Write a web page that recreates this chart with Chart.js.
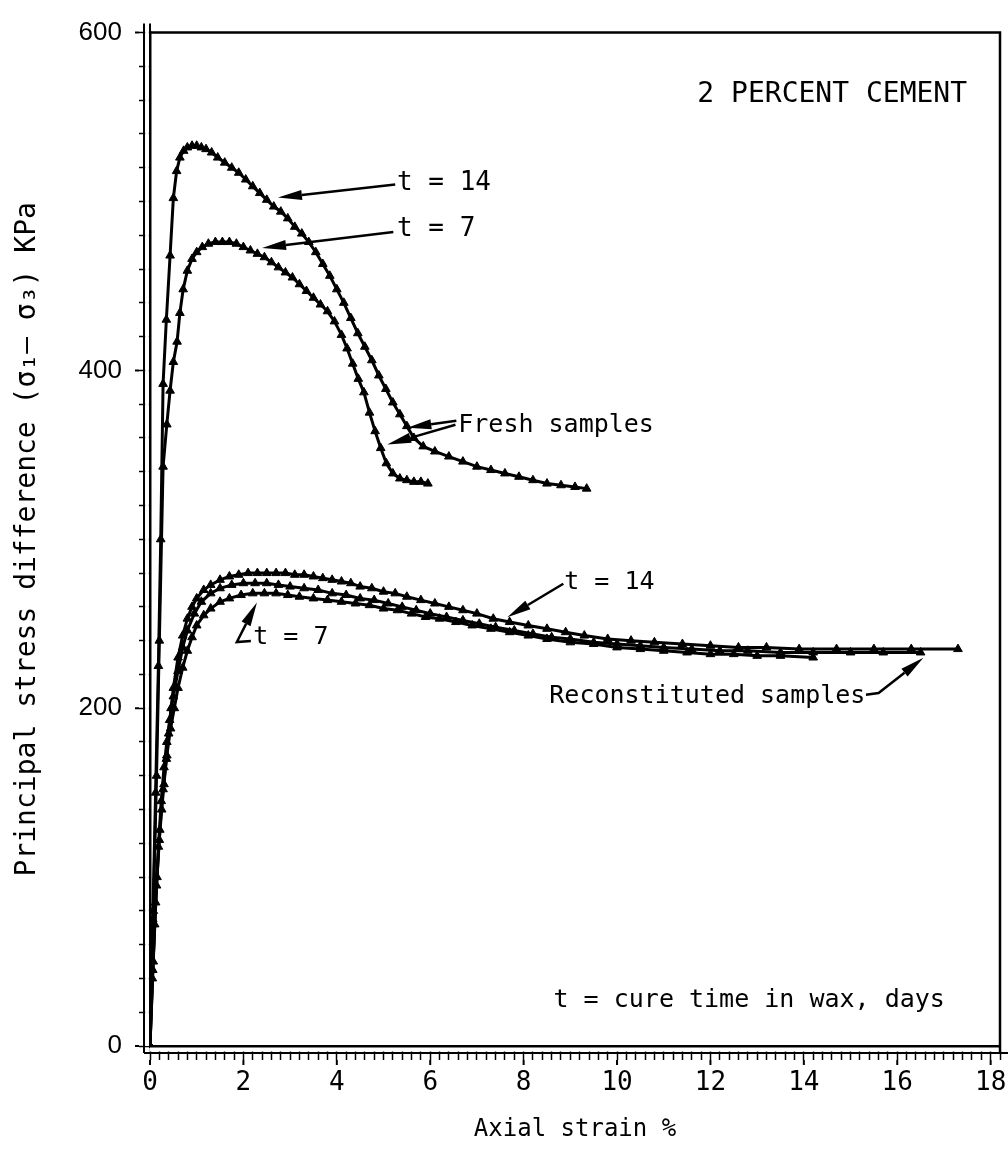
<!DOCTYPE html>
<html lang="en">
<head>
    <meta charset="UTF-8">
    <title>2 percent cement - stress vs strain</title>
    <script src="https://cdn.jsdelivr.net/npm/chart.js"></script>
    <style>
        body { margin: 0; background: #fff; }
        #box { width: 1008px; height: 1157px; }
    </style>
</head>
<body>
    <div id="box">
        <canvas id="stressChart" width="1008" height="1157"></canvas>
    </div>

    <script>
        // axial strain (%) and principal stress difference (kPa)
        const fresh14X = [0, 0.06, 0.12, 0.18, 0.23, 0.28, 0.35, 0.43, 0.5, 0.57, 0.64, 0.72, 0.8, 0.9, 1.0, 1.1, 1.2, 1.32, 1.45, 1.6, 1.75, 1.9, 2.05, 2.2, 2.35, 2.5, 2.65, 2.8, 2.95, 3.1, 3.25, 3.4, 3.55, 3.7, 3.85, 4.0, 4.15, 4.3, 4.45, 4.6, 4.75, 4.9, 5.05, 5.2, 5.35, 5.5, 5.65, 5.85, 6.1, 6.4, 6.7, 7.0, 7.3, 7.6, 7.9, 8.2, 8.5, 8.8, 9.1, 9.35];
        const fresh14Y = [0, 75, 150, 225, 300, 392, 430, 468, 502, 518, 526, 530, 532, 533, 533, 532, 531, 529, 526, 523, 520, 517, 513, 509, 505, 501, 497, 494, 490, 485, 481, 476, 470, 463, 456, 448, 440, 431, 422, 414, 406, 397, 389, 381, 374, 367, 360, 355, 352, 349, 346, 343, 341, 339, 337, 335, 333, 332, 331, 330];

        const fresh7X = [0, 0.07, 0.14, 0.2, 0.28, 0.36, 0.43, 0.5, 0.58, 0.64, 0.71, 0.8, 0.9, 1.0, 1.12, 1.25, 1.4, 1.55, 1.7, 1.85, 2.0, 2.15, 2.3, 2.45, 2.6, 2.75, 2.9, 3.05, 3.2, 3.35, 3.5, 3.65, 3.8, 3.95, 4.1, 4.22, 4.34, 4.46, 4.58, 4.7, 4.82, 4.94, 5.06, 5.2, 5.35, 5.5, 5.65, 5.8, 5.95];
        const fresh7Y = [0, 80, 160, 240, 343, 368, 388, 405, 417, 434, 448, 459, 466, 470, 473, 475, 476, 476, 476, 475, 473, 471, 469, 467, 464, 461, 458, 455, 451, 447, 443, 439, 435, 429, 421, 413, 404, 395, 387, 375, 364, 354, 345, 339, 336, 335, 334, 334, 333];

        const recon14X = [0, 0.05, 0.1, 0.15, 0.2, 0.25, 0.3, 0.35, 0.4, 0.45, 0.5, 0.6, 0.7, 0.8, 0.9, 1.0, 1.15, 1.3, 1.5, 1.7, 1.9, 2.1, 2.3, 2.5, 2.7, 2.9, 3.1, 3.3, 3.5, 3.7, 3.9, 4.1, 4.3, 4.5, 4.75, 5.0, 5.25, 5.5, 5.8, 6.1, 6.4, 6.7, 7.0, 7.35, 7.7, 8.1, 8.5, 8.9, 9.3, 9.8, 10.3, 10.8, 11.4, 12.0, 12.6, 13.2, 13.9, 14.7, 15.5, 16.3, 17.3];
        const recon14Y = [0, 40, 72, 100, 122, 140, 155, 170, 185, 200, 212, 230, 243, 253, 260, 265, 270, 273, 276, 278, 279, 280, 280, 280, 280, 280, 279, 279, 278, 277, 276, 275, 274, 272, 271, 269, 268, 266, 264, 262, 260, 258, 256, 253, 251, 249, 247, 245, 243, 241, 240, 239, 238, 237, 236, 236, 235, 235, 235, 235, 235];

        const reconMidX = [0, 0.06, 0.12, 0.18, 0.24, 0.3, 0.36, 0.42, 0.5, 0.6, 0.7, 0.8, 0.95, 1.1, 1.3, 1.5, 1.75, 2.0, 2.25, 2.5, 2.75, 3.0, 3.3, 3.6, 3.9, 4.2, 4.5, 4.8, 5.1, 5.4, 5.7, 6.0, 6.35, 6.7, 7.05, 7.4, 7.8, 8.2, 8.6, 9.0, 9.5, 10.0, 10.5, 11.0, 11.6, 12.2, 12.8, 13.5, 14.2, 15.0, 15.7, 16.5];
        const reconMidY = [0, 45, 85, 118, 145, 165, 180, 193, 207, 222, 236, 246, 256, 263, 268, 271, 273, 274, 274, 274, 273, 272, 271, 270, 268, 267, 265, 264, 262, 260, 258, 256, 254, 252, 250, 248, 246, 244, 242, 241, 239, 238, 237, 236, 235, 234, 234, 233, 233, 233, 233, 233];

        const recon7X = [0, 0.07, 0.14, 0.21, 0.28, 0.36, 0.44, 0.52, 0.6, 0.7, 0.8, 0.9, 1.0, 1.15, 1.3, 1.5, 1.7, 1.95, 2.2, 2.45, 2.7, 2.95, 3.2, 3.5, 3.8, 4.1, 4.4, 4.7, 5.0, 5.3, 5.6, 5.9, 6.2, 6.55, 6.9, 7.3, 7.7, 8.1, 8.5, 9.0, 9.5, 10.0, 10.5, 11.0, 11.5, 12.0, 12.5, 13.0, 13.5, 14.2];
        const recon7Y = [0, 50, 95, 128, 152, 172, 188, 200, 212, 224, 234, 242, 249, 255, 259, 263, 265, 267, 268, 268, 268, 267, 266, 265, 264, 263, 262, 261, 259, 258, 256, 254, 253, 251, 249, 247, 245, 243, 241, 239, 238, 236, 235, 234, 233, 232, 232, 231, 231, 230];

        // tick labels
        const xTickLabels = [0, 2, 4, 6, 8, 10, 12, 14, 16, 18];
        const yTickLabels = [0, 200, 400, 600];

        const mono = '"DejaVu Sans Mono", monospace';

        // text notes and arrows, in data units
        const notes = [
            { text: '2 PERCENT CEMENT', x: 11.72, y: 563.5, size: 28 },
            { text: 't = 14', x: 5.29, y: 511, size: 26 },
            { text: 't = 7', x: 5.29, y: 483.6, size: 26 },
            { text: 'Fresh samples', x: 6.6, y: 367.3, size: 25 },
            { text: 't = 14', x: 8.87, y: 274.3, size: 25 },
            { text: 't = 7', x: 2.21, y: 242, size: 25 },
            { text: 'Reconstituted samples', x: 8.55, y: 207, size: 25 },
            { text: 't = cure time in wax, days', x: 8.64, y: 27, size: 25 }
        ];
        const arrows = [
            [[5.25, 510], [2.74, 502.3]],
            [[5.21, 481.9], [2.40, 472.5]],
            [[6.56, 370.2], [5.51, 366.1]],
            [[6.54, 367.8], [5.08, 356.1]],
            [[8.85, 273.7], [7.65, 253.8]],
            [[2.16, 239.8], [1.86, 239.2], [2.29, 262.6]],
            [[15.33, 208], [15.6, 209], [16.56, 229.8]]
        ];

        function toPoints(xs, ys) {
            return xs.map((x, i) => ({ x: x, y: ys[i] }));
        }

        function series(label, xs, ys) {
            return {
                label: label,
                data: toPoints(xs, ys),
                borderColor: '#000',
                backgroundColor: '#000',
                borderWidth: 3,
                pointStyle: 'triangle',
                pointRadius: 5,
                pointBorderWidth: 1,
                tension: 0
            };
        }

        // same value within rounding
        const near = (list, v) => list.find(t => Math.abs(t - v) < 1e-6);

        // frame, double axis lines and the notes
        const decorations = {
            id: 'decorations',
            afterDraw(chart) {
                const ctx = chart.ctx;
                const xs = chart.scales.x;
                const ys = chart.scales.y;
                const a = chart.chartArea;
                ctx.save();
                ctx.strokeStyle = '#000';

                // white gaps then second lines
                ctx.fillStyle = '#fff';
                ctx.fillRect(a.left, a.bottom + 1.5, a.right - a.left + 8, 4);
                ctx.fillRect(a.left - 4.8, a.top - 8, 3.6, a.bottom - a.top + 8);
                ctx.lineWidth = 2;
                ctx.beginPath();
                ctx.moveTo(a.left - 6, a.bottom + 7);
                ctx.lineTo(1008, a.bottom + 7);
                ctx.moveTo(a.left - 6, a.top - 9);
                ctx.lineTo(a.left - 6, a.bottom + 7);
                ctx.moveTo(a.left, a.top - 9);
                ctx.lineTo(a.left, a.top);
                ctx.stroke();

                // top and right frame
                ctx.lineWidth = 2.5;
                ctx.beginPath();
                ctx.moveTo(a.left, a.top);
                ctx.lineTo(a.right, a.top);
                ctx.lineTo(a.right, a.bottom + 7);
                ctx.stroke();

                // longer marks at labelled ticks
                ctx.lineWidth = 2;
                ctx.beginPath();
                xTickLabels.forEach(v => {
                    const px = xs.getPixelForValue(v);
                    ctx.moveTo(px, a.bottom + 14);
                    ctx.lineTo(px, a.bottom + 19);
                });
                yTickLabels.forEach(v => {
                    const py = ys.getPixelForValue(v);
                    ctx.moveTo(a.left - 11, py);
                    ctx.lineTo(a.left - 15, py);
                });
                ctx.stroke();

                // arrows
                ctx.fillStyle = '#000';
                ctx.lineWidth = 2.5;
                arrows.forEach(path => {
                    const pts = path.map(p => [xs.getPixelForValue(p[0]), ys.getPixelForValue(p[1])]);
                    const tip = pts[pts.length - 1];
                    const prev = pts[pts.length - 2];
                    const ang = Math.atan2(tip[1] - prev[1], tip[0] - prev[0]);
                    const len = 24;
                    const bx = tip[0] - len * Math.cos(ang);
                    const by = tip[1] - len * Math.sin(ang);
                    ctx.beginPath();
                    ctx.moveTo(pts[0][0], pts[0][1]);
                    for (let i = 1; i < pts.length - 1; i++) ctx.lineTo(pts[i][0], pts[i][1]);
                    ctx.lineTo(bx, by);
                    ctx.stroke();
                    ctx.beginPath();
                    ctx.moveTo(tip[0], tip[1]);
                    ctx.lineTo(bx + 5 * Math.sin(ang), by - 5 * Math.cos(ang));
                    ctx.lineTo(bx - 5 * Math.sin(ang), by + 5 * Math.cos(ang));
                    ctx.closePath();
                    ctx.fill();
                });

                // notes
                ctx.textAlign = 'left';
                ctx.textBaseline = 'middle';
                notes.forEach(n => {
                    ctx.font = n.size + 'px ' + mono;
                    ctx.fillText(n.text, xs.getPixelForValue(n.x), ys.getPixelForValue(n.y));
                });
                ctx.restore();
            }
        };

        Chart.defaults.color = '#000';

        const config = {
            type: 'line',
            data: {
                datasets: [
                    series('Fresh t = 14', fresh14X, fresh14Y),
                    series('Fresh t = 7', fresh7X, fresh7Y),
                    series('Reconstituted t = 14', recon14X, recon14Y),
                    series('Reconstituted', reconMidX, reconMidY),
                    series('Reconstituted t = 7', recon7X, recon7Y)
                ]
            },
            options: {
                responsive: false,
                animation: false,
                layout: { padding: { top: 20, right: 8, left: 0, bottom: 0 } },
                plugins: {
                    legend: { display: false },
                    tooltip: { enabled: false }
                },
                scales: {
                    x: {
                        type: 'linear',
                        min: 0,
                        max: 18.2,
                        afterFit(scale) { scale.height = 111; },
                        // small marks every 0.2 %
                        afterBuildTicks(scale) {
                            const list = [];
                            for (let i = 0; i <= 91; i++) list.push({ value: Math.round(i * 2) / 10 });
                            scale.ticks = list;
                        },
                        border: { color: '#000', width: 3 },
                        grid: { drawOnChartArea: false, tickLength: 14, tickColor: '#000', tickWidth: 1.5 },
                        ticks: {
                            autoSkip: false,
                            maxRotation: 0,
                            padding: 8,
                            font: { family: mono, size: 26 },
                            callback: v => near(xTickLabels, v) !== undefined ? String(near(xTickLabels, v)) : ''
                        },
                        title: {
                            display: true,
                            text: 'Axial strain %',
                            font: { family: mono, size: 24 },
                            padding: { top: 0, bottom: 13 }
                        }
                    },
                    y: {
                        min: 0,
                        max: 600,
                        afterFit(scale) { scale.width = 150; },
                        border: { color: '#000', width: 2.5 },
                        grid: { drawOnChartArea: false, tickLength: 11, tickColor: '#000', tickWidth: 1.5 },
                        ticks: {
                            stepSize: 20,
                            autoSkip: false,
                            padding: 17,
                            font: { family: '"Liberation Sans", Arial, sans-serif', size: 26 },
                            callback: v => near(yTickLabels, v) !== undefined ? String(near(yTickLabels, v)) : ''
                        },
                        title: {
                            display: true,
                            text: 'Principal stress difference (σ₁– σ₃) KPa',
                            font: { family: mono, size: 28 },
                            padding: { top: 11, bottom: 0 }
                        }
                    }
                }
            },
            plugins: [decorations]
        };

        const ctx = document.getElementById('stressChart').getContext('2d');
        new Chart(ctx, config);
    </script>
</body>
</html>
